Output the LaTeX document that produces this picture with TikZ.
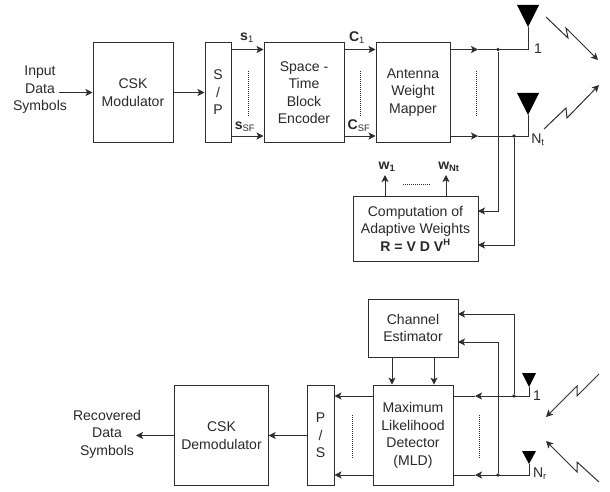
\documentclass[tikz,border=0pt]{standalone}
\usepackage{amsmath}
\usepackage{fontspec}
\setmainfont{Liberation Sans}
\usetikzlibrary{arrows.meta,positioning,calc}
\definecolor{inkline}{HTML}{2E2E2E}
\definecolor{inktext}{HTML}{2A2A2A}
\tikzset{
  sig/.style={inkline, line width=0.85pt},
  sigarrow/.style={sig, -{Stealth[length=2.1mm,width=2.1mm,inset=0.5mm]}},
  blockbox/.style={draw=inkline, line width=0.85pt, fill=white, inner sep=0pt, align=center, text=inktext, font=\fontsize{12}{14.9}\selectfont},
  lbl/.style={inner sep=0pt, align=center, text=inktext, font=\fontsize{12}{14.9}\selectfont},
  dotrule/.style={inkline, line width=0.7pt, dash pattern=on 1pt off 0.7pt},
  junction/.style={circle, fill=inkline, inner sep=0pt, minimum size=3.2pt},
  antenna/.style={fill=black}
}

\begin{document}
\begin{tikzpicture}[x=0.3mm,y=-0.3mm]
  \useasboundingbox (0,0) rectangle (610,492);

  % Rows of the transmitter and the receiver
  \coordinate (rowA) at (0,49.5);
  \coordinate (rowB) at (0,136);
  \coordinate (rowC) at (0,396);
  \coordinate (rowD) at (0,475);

  % Transmitter blocks
  \node[lbl] (input) at (40,90) {Input\\Data\\Symbols};
  \node[blockbox, minimum width=24mm, minimum height=30.2mm] (modulator) at (133,92.5) {CSK\\Modulator};
  \node[blockbox, minimum width=7.8mm, minimum height=30.2mm] (sp) at (218,92.5) {S\\/\\P};
  \node[blockbox, minimum width=24mm, minimum height=30.2mm] (encoder) at (304,92.5) {Space -\\Time\\Block\\Encoder};
  \node[blockbox, minimum width=22.2mm, minimum height=30.2mm] (mapper) at (413,92.5) {Antenna\\Weight\\Mapper};
  \node[blockbox, minimum width=37.5mm, minimum height=19.5mm] (adaptive) at (415.5,228.5) {Computation of\\Adaptive Weights\\\textbf{R = V D V\textsuperscript{H}}};

  % Transmitter signal labels
  \node[lbl] (s1) at (247,38) {\textbf{s}\textsubscript{1}};
  \node[lbl] (sSF) at (245,127) {\textbf{s}\textsubscript{SF}};
  \node[lbl] (c1) at (357,38) {\textbf{C}\textsubscript{1}};
  \node[lbl] (cSF) at (359,126) {\textbf{C}\textsubscript{SF}};
  \node[lbl] (w1) at (387,167) {\textbf{w\textsubscript{1}}};
  \node[lbl] (wNt) at (449,167) {\textbf{w\textsubscript{Nt}}};
  \node[lbl] (txone) at (538,49) {1};
  \node[lbl] (txNt) at (538,140) {N\textsubscript{t}};

  % Transmit antennas
  \coordinate (antA) at (528,27);
  \coordinate (antB) at (528,115);
  \fill[antenna] (antA) -- ++(-11,-22) -- ++(22,0) -- cycle;
  \fill[antenna] (antB) -- ++(-11,-22) -- ++(22,0) -- cycle;

  % Transmitter connectors
  \coordinate (inStart) at (59,92.5);
  \draw[sigarrow] (inStart) -- (modulator);
  \draw[sigarrow] (modulator) -- (sp);
  \draw[sigarrow] (sp.east |- rowA) -- (encoder.west |- rowA);
  \draw[sigarrow] (sp.east |- rowB) -- (encoder.west |- rowB);
  \draw[sigarrow] (encoder.east |- rowA) -- (mapper.west |- rowA);
  \draw[sigarrow] (encoder.east |- rowB) -- (mapper.west |- rowB);
  \coordinate (midA) at (478,49.5);
  \coordinate (midB) at (478,136);
  \draw[sigarrow] (mapper.east |- rowA) -- (midA);
  \draw[sigarrow] (mapper.east |- rowB) -- (midB);
  \draw[sig] (midA) -- (antA |- rowA) -- (antA);
  \draw[sig] (midB) -- (antB |- rowB) -- (antB);

  % Feedback into the weight computation
  \node[junction] (tapA) at (498,49.5) {};
  \node[junction] (tapB) at (514,136) {};
  \coordinate (inA) at (478,211);
  \coordinate (inB) at (478,245);
  \draw[sigarrow] (tapA) |- (inA);
  \draw[sigarrow] (tapB) |- (inB);
  \coordinate (outA) at (385,175);
  \coordinate (outB) at (446,175);
  \draw[sigarrow] (adaptive.north -| outA) -- (outA);
  \draw[sigarrow] (adaptive.north -| outB) -- (outB);

  % Dotted rules
  \draw[dotrule] (248,71) -- (248,115);
  \draw[dotrule] (360,71) -- (360,115);
  \draw[dotrule] (476,71) -- (476,115);
  \draw[dotrule] (403,184) -- (430,184);

  % Radio links of the transmitter
  \draw[sigarrow] (546,17) -- (568,38) -- (566,28) -- (598,60);
  \draw[sigarrow] (544,129) -- (566,108) -- (567,118) -- (599,85);

  % Receiver blocks
  \node[lbl] (output) at (107,434) {Recovered\\Data\\Symbols};
  \node[blockbox, minimum width=28mm, minimum height=30.2mm] (demod) at (221.5,435.5) {CSK\\Demodulator};
  \node[blockbox, minimum width=8.1mm, minimum height=30.2mm] (ps) at (320.5,435.5) {P\\/\\S};
  \node[blockbox, minimum width=24mm, minimum height=30.2mm] (mld) at (413,435.5) {Maximum\\Likelihood\\Detector\\(MLD)};
  \node[blockbox, minimum width=27mm, minimum height=17.4mm] (estimator) at (413,328) {Channel\\Estimator};
  \node[lbl] (rxone) at (537,396) {1};
  \node[lbl] (rxNr) at (540,474) {N\textsubscript{r}};

  % Receive antennas
  \coordinate (antC) at (529,387);
  \coordinate (antD) at (529,464);
  \fill[antenna] (antC) -- ++(-7,-14) -- ++(14,0) -- cycle;
  \fill[antenna] (antD) -- ++(-7,-13) -- ++(14,0) -- cycle;

  % Receiver connectors
  \coordinate (midC) at (475,396);
  \coordinate (midD) at (475,475);
  \draw[sigarrow] (antC) -- (antC |- rowC) -- (midC);
  \draw[sigarrow] (antD) -- (antD |- rowD) -- (midD);
  \draw[sig] (midC) -- (mld.east |- rowC);
  \draw[sig] (midD) -- (mld.east |- rowD);
  \draw[sigarrow] (mld.west |- rowC) -- (ps.east |- rowC);
  \draw[sigarrow] (mld.west |- rowD) -- (ps.east |- rowD);
  \draw[sigarrow] (ps) -- (demod);
  \coordinate (outTip) at (136,435.5);
  \draw[sigarrow] (demod) -- (outTip);
  \coordinate (downA) at (392,357);
  \coordinate (downB) at (434,357);
  \draw[sigarrow] (estimator.south -| downA) -- (mld.north -| downA);
  \draw[sigarrow] (estimator.south -| downB) -- (mld.north -| downB);

  % Taps into the channel estimator
  \node[junction] (tapC) at (514,396) {};
  \node[junction] (tapD) at (498,475) {};
  \coordinate (inC) at (458,314);
  \coordinate (inD) at (458,342);
  \draw[sigarrow] (tapC) |- (inC);
  \draw[sigarrow] (tapD) |- (inD);

  % Dotted rules
  \draw[dotrule] (352,415) -- (352,458);
  \draw[dotrule] (479,415) -- (479,458);

  % Radio links of the receiver
  \draw[sigarrow] (599,374) -- (577,396) -- (577,386) -- (546,417);
  \draw[sigarrow] (599,482) -- (577,462) -- (577,472) -- (546,441);
\end{tikzpicture}
\end{document}
